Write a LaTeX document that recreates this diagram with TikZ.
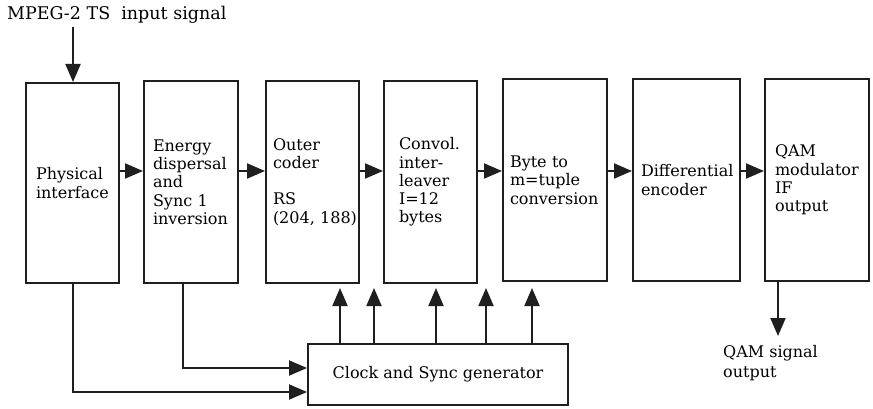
\documentclass[tikz,border=0pt]{standalone}
\usepackage{fontspec}
\setmainfont{DejaVu Serif}
\usetikzlibrary{arrows.meta}
\begin{document}
\begin{tikzpicture}[x=1pt,y=-1pt,
  blk/.style={draw=black!88, line width=2pt, rectangle, align=left, inner ysep=0pt,
    font=\fontsize{16}{18.3}\selectfont},
  arr/.style={draw=black!88, line width=2pt, -{Triangle[length=18pt,width=15pt]}},
  lbl/.style={inner sep=0pt, font=\fontsize{16}{20.5}\selectfont, align=left}]
\useasboundingbox (0,0) rectangle (873,409);
% boxes
\node[blk, minimum width=93, minimum height=200, inner xsep=10, text width=73] (b1) at (72.5,183) {Physical\\interface};
\node[blk, minimum width=94, minimum height=202, inner xsep=9, text width=76] (b2) at (191,182) {Energy\\dispersal\\and\\Sync 1\\inversion};
\node[blk, minimum width=93, minimum height=202, inner xsep=7, text width=79] (b3) at (312.5,182) {Outer\\coder\\[18.3pt]RS\\(204,~188)};
\node[blk, minimum width=93, minimum height=202, inner xsep=15, text width=63] (b4) at (430.5,182) {Convol.\\inter-\\leaver\\I=12\\bytes};
\node[blk, minimum width=104, minimum height=202, inner xsep=7, text width=90] (b5) at (555,180) {Byte to\\m=tuple\\conversion};
\node[blk, minimum width=107, minimum height=202, inner xsep=8, text width=91] (b6) at (686.5,180) {Differential\\encoder};
\node[blk, minimum width=104, minimum height=202, inner xsep=10, text width=84] (b7) at (817,180) {QAM\\modulator\\IF\\output};
\node[blk, minimum width=260, minimum height=61, align=center] (clk) at (438,374.5) {Clock and Sync generator};
% labels
\node[lbl, anchor=west, font=\fontsize{17.5}{20}\selectfont] (in) at (7,15) {MPEG-2 TS\ \ input signal};
\node[lbl, anchor=north west] (out) at (723,345) {QAM signal\\output};
% coordinates
\coordinate (yh) at (0,171);
\coordinate (inA) at (73,27);
\coordinate (c2) at (183,0);
\coordinate (yb1) at (0,392);
\coordinate (yb2) at (0,368);
\coordinate (outx) at (778,0);
\coordinate (outE) at (778,336);
\coordinate (t1) at (340,288);
\coordinate (t2) at (374,288);
\coordinate (t3) at (436,288);
\coordinate (t4) at (486,288);
\coordinate (t5) at (532,288);
% input/output
\draw[arr] (inA) -- (b1.north -| inA);
\draw[arr] (b7.south -| outx) -- (outE);
% chain
\draw[arr] (b1.east |- yh) -- (b2.west |- yh);
\draw[arr] (b2.east |- yh) -- (b3.west |- yh);
\draw[arr] (b3.east |- yh) -- (b4.west |- yh);
\draw[arr] (b4.east |- yh) -- (b5.west |- yh);
\draw[arr] (b5.east |- yh) -- (b6.west |- yh);
\draw[arr] (b6.east |- yh) -- (b7.west |- yh);
% feeds to clock
\draw[arr] (b1.south) |- (clk.west |- yb1);
\draw[arr] (b2.south -| c2) |- (clk.west |- yb2);
% clock outputs
\foreach \t in {t1,t2,t3,t4,t5}
  \draw[arr] (clk.north -| \t) -- (\t);
\end{tikzpicture}
\end{document}
